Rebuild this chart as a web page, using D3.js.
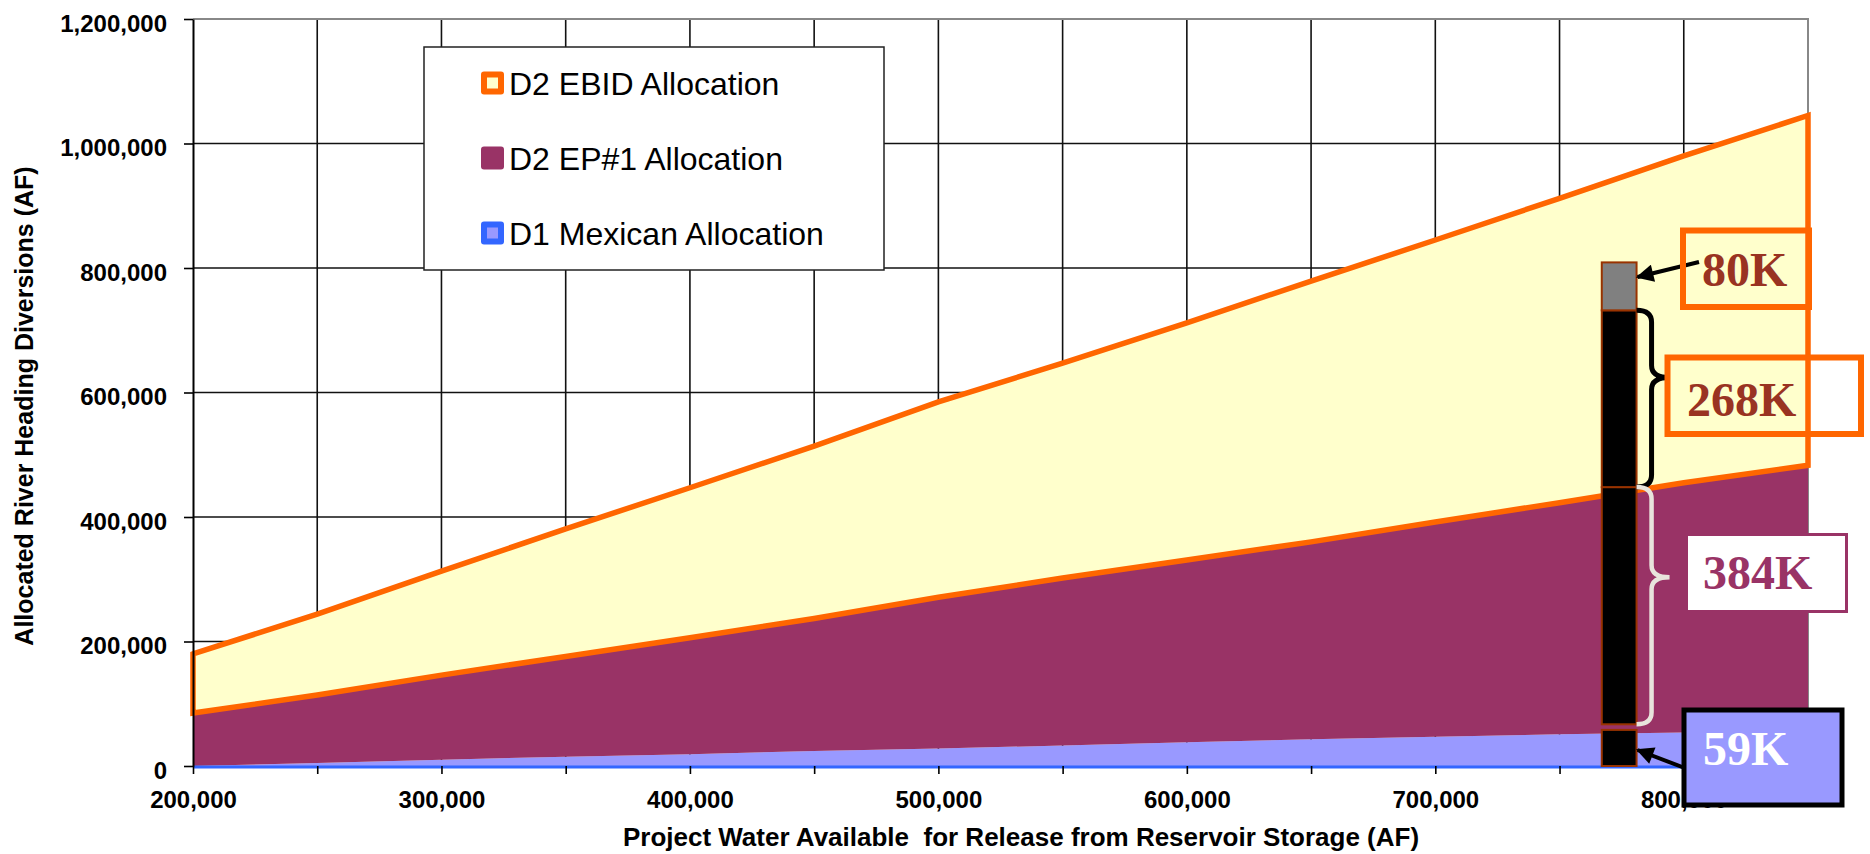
<!DOCTYPE html>
<html lang="en">
<head>
<meta charset="UTF-8">
<title>Allocated River Heading Diversions</title>
<style>
  body { margin: 0; background: #fff; }
  svg { display: block; font-family: "Liberation Sans", Arial, sans-serif; }
</style>
</head>
<body>
<script src="https://cdn.jsdelivr.net/npm/d3@7/dist/d3.min.js"></script>
<script>
  // project water available for release (AF)
  var release = [200000, 250000, 300000, 350000, 400000, 450000, 500000,
                 550000, 600000, 650000, 700000, 750000, 800000, 850000];
  // allocations (AF), stacked bottom to top
  var mexican = [0, 5000, 10000, 15000, 19000, 24000, 28000,
                 33000, 38000, 43000, 47000, 51000, 54000, 55000];
  var ep1     = [85000, 109000, 136000, 161000, 187000, 213000, 243000,
                 269000, 293000, 317000, 345000, 372000, 401000, 428000];
  var ebid    = [95000, 130000, 167000, 205000, 241000, 277000, 314000,
                 345000, 381000, 419000, 453000, 489000, 525000, 562000];

  var seriesKeys   = ['mexican', 'ep1', 'ebid'];
  var legendLabels = ['D2 EBID Allocation', 'D2 EP#1 Allocation', 'D1 Mexican Allocation'];

  var yTicks      = [0, 200000, 400000, 600000, 800000, 1000000, 1200000];
  var xTicks      = [200000, 250000, 300000, 350000, 400000, 450000, 500000,
                     550000, 600000, 650000, 700000, 750000, 800000, 850000];
  var xLabelTicks = [200000, 300000, 400000, 500000, 600000, 700000, 800000];

  // the full supply bar and its pieces
  var barRelease  = [767000, 781000];
  var barSegments = [[0, 58000], [67000, 448000], [448000, 732000], [732000, 809000]];
  var barFills    = ['#000', '#000', '#000', '#808080'];
  var callouts    = ['80K', '268K', '384K', '59K'];

  var W = 1870, H = 854;
  var mLeft = 193, mRight = 1808, mTop = 19, mBottom = 766;

  var svg = d3.select('body').append('svg')
      .attr('width', W)
      .attr('height', H);

  var defs = svg.append('defs');
  defs.append('marker')
      .attr('id', 'head')
      .attr('viewBox', '0 0 10 10')
      .attr('refX', 9).attr('refY', 5)
      .attr('markerWidth', 5).attr('markerHeight', 4.4)
      .attr('markerUnits', 'strokeWidth')
      .attr('orient', 'auto')
    .append('path')
      .attr('d', 'M0,0 L10,5 L0,10 Z')
      .attr('fill', '#000');

  var x = d3.scaleLinear().domain([200000, 850000]).range([mLeft, mRight]);
  var y = d3.scaleLinear().domain([0, 1200000]).range([mBottom, mTop]);

  var rows = release.map(function(r, i) {
    return { release: r, mexican: mexican[i], ep1: ep1[i], ebid: ebid[i] };
  });
  var stacked = d3.stack().keys(seriesKeys)(rows);

  // grid
  var grid = svg.append('g');
  grid.selectAll('line.h')
      .data(yTicks.slice(1, -1))
    .enter().append('line')
      .attr('x1', mLeft).attr('x2', mRight)
      .attr('y1', function(d) { return y(d); })
      .attr('y2', function(d) { return y(d); })
      .attr('stroke', '#111').attr('stroke-width', 1.6);
  grid.selectAll('line.v')
      .data(xTicks.slice(1, -1))
    .enter().append('line')
      .attr('y1', mTop).attr('y2', mBottom)
      .attr('x1', function(d) { return x(d); })
      .attr('x2', function(d) { return x(d); })
      .attr('stroke', '#111').attr('stroke-width', 1.6);
  grid.append('path')
      .attr('d', 'M' + mLeft + ',' + mTop + 'H' + mRight + 'V' + mBottom)
      .attr('fill', 'none')
      .attr('stroke', '#888').attr('stroke-width', 2);

  // areas
  var area = d3.area()
      .x(function(d) { return x(d.data.release); })
      .y0(function(d) { return y(d[0]); })
      .y1(function(d) { return y(d[1]); });

  var fills = { mexican: '#9999FF', ep1: '#993366', ebid: '#FFFFCC' };
  svg.append('g').selectAll('path')
      .data(stacked)
    .enter().append('path')
      .attr('d', area)
      .attr('fill', function(d) { return fills[d.key]; });

  // EBID outline
  svg.append('path')
      .datum(stacked[2])
      .attr('d', area)
      .attr('fill', 'none')
      .attr('stroke', '#FF6600')
      .attr('stroke-width', 5.5)
      .attr('stroke-linejoin', 'miter');

  // Mexican base line
  svg.append('path')
      .datum(stacked[0])
      .attr('d', d3.line()
        .x(function(d) { return x(d.data.release); })
        .y(function(d) { return y(d[0]) + 1; }))
      .attr('fill', 'none')
      .attr('stroke', '#3366FF')
      .attr('stroke-width', 3);

  // axes
  var yAxis = svg.append('g')
      .attr('transform', 'translate(' + mLeft + ',0)')
      .call(d3.axisLeft(y).tickValues(yTicks).tickSize(9).tickSizeOuter(0)
        .tickFormat(d3.format(',')));
  yAxis.select('.domain').attr('stroke', '#000').attr('stroke-width', 2);
  yAxis.selectAll('.tick line').attr('stroke', '#000').attr('stroke-width', 1.6);
  yAxis.selectAll('.tick text')
      .attr('x', -26).attr('dy', '0.5em')
      .attr('fill', '#000')
      .style('font-size', '24px').style('font-weight', 'bold')
      .style('font-family', '"Liberation Sans", Arial, sans-serif');

  var xAxis = svg.append('g')
      .attr('transform', 'translate(0,' + mBottom + ')')
      .call(d3.axisBottom(x).tickValues(xTicks).tickSize(8).tickSizeOuter(0)
        .tickFormat(function(d) { return xLabelTicks.indexOf(d) >= 0 ? d3.format(',')(d) : ''; }));
  xAxis.select('.domain').remove();
  xAxis.selectAll('.tick line').attr('stroke', '#000').attr('stroke-width', 1.6);
  xAxis.selectAll('.tick text')
      .attr('y', 30).attr('dy', '0.5em')
      .attr('fill', '#000')
      .style('font-size', '24px').style('font-weight', 'bold')
      .style('font-family', '"Liberation Sans", Arial, sans-serif');

  svg.append('text')
      .attr('transform', 'translate(33,406) rotate(-90)')
      .attr('text-anchor', 'middle')
      .style('font-size', '25px').style('font-weight', 'bold')
      .text('Allocated River Heading Diversions (AF)');

  svg.append('text')
      .attr('x', 1021).attr('y', 846)
      .attr('text-anchor', 'middle')
      .style('font-size', '26px').style('font-weight', 'bold')
      .style('white-space', 'pre')
      .text('Project Water Available  for Release from Reservoir Storage (AF)');

  // legend
  var legend = svg.append('g');
  legend.append('rect')
      .attr('x', 424).attr('y', 47).attr('width', 460).attr('height', 223)
      .attr('fill', '#fff').attr('stroke', '#222').attr('stroke-width', 1.5);

  var markerOuter = ['#FF6600', '#993366', '#3366FF'];
  var markerInner = ['#FFFFCC', null, '#9999FF'];
  var item = legend.selectAll('g.item')
      .data(legendLabels)
    .enter().append('g')
      .attr('transform', function(d, i) { return 'translate(0,' + (83 + i * 75) + ')'; });
  item.append('rect')
      .attr('x', 481).attr('y', -11.5).attr('width', 23).attr('height', 23).attr('rx', 3)
      .attr('fill', function(d, i) { return markerOuter[i]; });
  item.filter(function(d, i) { return markerInner[i]; }).append('rect')
      .attr('x', 487).attr('y', -5.5).attr('width', 11).attr('height', 11)
      .attr('fill', function(d) { return markerInner[legendLabels.indexOf(d)]; });
  item.append('text')
      .attr('x', 509).attr('y', 12)
      .style('font-size', '32px')
      .text(function(d) { return d; });

  // full supply bar
  svg.append('g').selectAll('rect')
      .data(barSegments)
    .enter().append('rect')
      .attr('x', x(barRelease[0]))
      .attr('width', x(barRelease[1]) - x(barRelease[0]))
      .attr('y', function(d) { return y(d[1]); })
      .attr('height', function(d) { return y(d[0]) - y(d[1]); })
      .attr('fill', function(d, i) { return barFills[i]; })
      .attr('stroke', '#993300').attr('stroke-width', 2);

  // braces
  function brace(y1, y2, x0) {
    var xm = x0 + 15, xt = x0 + 33, r = 12;
    var ym = y1 + (y2 - y1) * 0.38;
    return 'M' + x0 + ',' + y1 +
      'Q' + xm + ',' + y1 + ' ' + xm + ',' + (y1 + r) +
      'L' + xm + ',' + (ym - r) +
      'Q' + xm + ',' + ym + ' ' + xt + ',' + ym +
      'Q' + xm + ',' + ym + ' ' + xm + ',' + (ym + r) +
      'L' + xm + ',' + (y2 - r) +
      'Q' + xm + ',' + y2 + ' ' + x0 + ',' + y2;
  }
  var bx = x(barRelease[1]);
  svg.append('path')
      .attr('d', brace(y(barSegments[2][1]), y(barSegments[2][0]), bx))
      .attr('fill', 'none').attr('stroke', '#000').attr('stroke-width', 5);
  svg.append('path')
      .attr('d', brace(y(barSegments[1][1]), y(barSegments[1][0]), bx))
      .attr('fill', 'none').attr('stroke', '#E8E4DC').attr('stroke-width', 4.5);

  // arrows
  svg.append('line')
      .attr('x1', 1699).attr('y1', 262)
      .attr('x2', bx + 1).attr('y2', 277)
      .attr('stroke', '#000').attr('stroke-width', 4)
      .attr('marker-end', 'url(#head)');
  svg.append('line')
      .attr('x1', 1690).attr('y1', 770)
      .attr('x2', bx + 1).attr('y2', 750)
      .attr('stroke', '#000').attr('stroke-width', 4)
      .attr('marker-end', 'url(#head)');

  // callouts
  var boxes = [
    { x: 1683, y: 230.5, w: 126, h: 76.5, fill: 'none', stroke: '#FF6600', sw: 6, tx: 1702, ty: 286, color: '#993322' },
    { x: 1667.5, y: 357.5, w: 193.5, h: 76.5, fill: 'none', stroke: '#FF6600', sw: 6, tx: 1687, ty: 416, color: '#993322' },
    { x: 1686.5, y: 534.5, w: 160, h: 77, fill: '#fff', stroke: '#993366', sw: 3, tx: 1703, ty: 589, color: '#993366' },
    { x: 1684, y: 710, w: 158, h: 95, fill: '#9999FF', stroke: '#000', sw: 5, tx: 1703, ty: 765, color: '#fff' }
  ];
  var call = svg.append('g').selectAll('g')
      .data(boxes)
    .enter().append('g');
  call.append('rect')
      .attr('x', function(d) { return d.x; })
      .attr('y', function(d) { return d.y; })
      .attr('width', function(d) { return d.w; })
      .attr('height', function(d) { return d.h; })
      .attr('fill', function(d) { return d.fill; })
      .attr('stroke', function(d) { return d.stroke; })
      .attr('stroke-width', function(d) { return d.sw; });
  call.append('text')
      .attr('x', function(d) { return d.tx; })
      .attr('y', function(d) { return d.ty; })
      .attr('fill', function(d) { return d.color; })
      .style('font-family', '"Liberation Serif", "Times New Roman", serif')
      .style('font-size', '48px').style('font-weight', 'bold')
      .text(function(d, i) { return callouts[i]; });
</script>
</body>
</html>
